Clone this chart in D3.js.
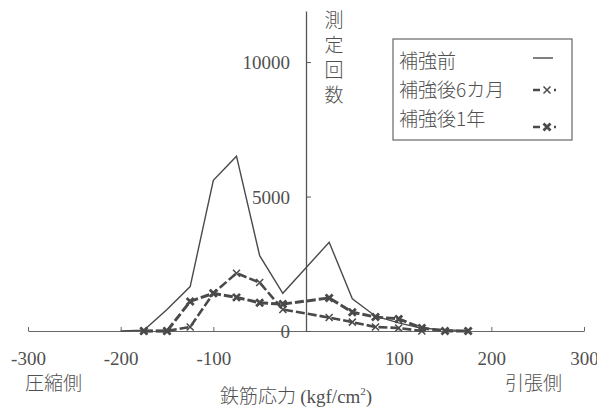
<!DOCTYPE html>
<html>
<head>
<meta charset="utf-8">
<script src="https://cdn.jsdelivr.net/npm/d3@7"></script>
<style>
  body { margin: 0; background: #fff; }
  svg { display: block; }
</style>
</head>
<body>
<svg id="graph"></svg>
<script>
// 鉄筋応力 (kgf/cm2) と測定回数
const xPre = [-200, -175, -150, -125, -100, -75, -50, -25, 25, 50, 75, 100, 125, 150, 175];
const yPre = [0, 30, 800, 1650, 5600, 6500, 2800, 1400, 3300, 1200, 550, 300, 100, 50, 0];

const x6m = [-175, -150, -125, -100, -75, -50, -25, 25, 50, 75, 100, 125];
const y6m = [0, 0, 150, 1400, 2150, 1800, 800, 500, 330, 150, 110, 0];

const x1y = [-175, -150, -125, -100, -75, -50, -25, 25, 50, 75, 100, 125, 150, 175];
const y1y = [0, 0, 1100, 1400, 1250, 1050, 1000, 1230, 700, 520, 450, 110, 0, 0];

const xTicks = [-300, -200, -100, 0, 100, 200, 300];
const yTicks = [0, 5000, 10000];
const seriesNames = ["補強前", "補強後6カ月", "補強後1年"];

const WIDTH = 597, HEIGHT = 409;
const ink = "#4a4a4a";
const txt = "#505050";
const SERIF = "'Times New Roman', 'Liberation Serif', 'Noto Serif', 'DejaVu Serif', Times, serif";
const JP = "'Noto Sans CJK JP', sans-serif";

const svg = d3.select("#graph").attr("width", WIDTH).attr("height", HEIGHT);

const x = d3.scaleLinear().domain([-300, 300]).range([28, 584]);
const y = d3.scaleLinear().domain([0, 10000]).range([331, 62]);

function num(sel, size) {
  return sel.attr("font-family", SERIF).style("font-family", SERIF)
      .style("font-size", (size || 19) + "px").style("fill", txt);
}
function jp(sel, size) {
  return sel.style("font-family", JP).style("font-size", (size || 18) + "px")
      .style("font-weight", 300).style("fill", txt);
}

// x axis, ticks pointing up
const xAxis = svg.append("g")
    .attr("transform", `translate(0,${y(0)})`)
    .call(d3.axisBottom(x).tickValues(xTicks)
          .tickSizeInner(-4).tickSizeOuter(0).tickPadding(21)
          .tickFormat(d => d === 0 ? "" : d));
xAxis.attr("font-family", SERIF);
xAxis.select(".domain").attr("stroke", "#666").attr("stroke-width", 1);
xAxis.selectAll(".tick line").attr("stroke", "#666");
num(xAxis.selectAll("text"));

// y axis at stress 0
const yAxis = svg.append("g")
    .attr("transform", `translate(${x(0)},0)`)
    .call(d3.axisLeft(y.copy().domain([0, 11900]).range([331, 11])).tickValues(yTicks)
          .tickSizeInner(-5).tickSizeOuter(0).tickPadding(16)
          .tickFormat(d3.format("d")));
yAxis.attr("font-family", SERIF);
yAxis.select(".domain").attr("stroke", "#555").attr("stroke-width", 1.3);
yAxis.selectAll(".tick line").attr("stroke", "#555");
num(yAxis.selectAll("text")).attr("dy", "0.35em");

// y title, vertical
jp(svg.append("g").selectAll("text")
    .data(["測", "定", "回", "数"])
    .join("text")
    .attr("text-anchor", "middle")
    .attr("x", 334)
    .attr("y", (d, i) => 27 + i * 25)
    .text(d => d), 19);

jp(svg.append("text").attr("x", 25).attr("y", 390).text("圧縮側"), 19);
jp(svg.append("text").attr("x", 505).attr("y", 390).text("引張側"), 19);

const title = jp(svg.append("text").attr("x", 220).attr("y", 403), 19);
title.append("tspan").text("鉄筋応力 ");
num(title.append("tspan").text("(kgf/cm"));
num(title.append("tspan").attr("dy", -8).text("2"), 11);
num(title.append("tspan").attr("dy", 8).text(")"));

const line = d3.line().x(d => x(d[0])).y(d => y(d[1]));

function thinX(g, cx, cy) {
  g.append("path")
    .attr("d", `M${cx - 3.5},${cy - 3.5}L${cx + 3.5},${cy + 3.5}M${cx + 3.5},${cy - 3.5}L${cx - 3.5},${cy + 3.5}`)
    .attr("stroke", ink).attr("stroke-width", 1.5).attr("fill", "none");
}
function boldX(g, cx, cy) {
  g.append("path")
    .attr("d", `M${cx - 3.5},${cy - 3.5}L${cx + 3.5},${cy + 3.5}M${cx + 3.5},${cy - 3.5}L${cx - 3.5},${cy + 3.5}`)
    .attr("stroke", ink).attr("stroke-width", 2.8).attr("fill", "none");
}

// 補強前
svg.append("path")
    .datum(d3.zip(xPre, yPre))
    .attr("d", line)
    .attr("fill", "none").attr("stroke", ink).attr("stroke-width", 1.4);

// 補強後6カ月
const d6 = d3.zip(x6m, y6m);
svg.append("path").datum(d6).attr("d", line)
    .attr("fill", "none").attr("stroke", ink).attr("stroke-width", 2.6)
    .attr("stroke-dasharray", "9,3");
const m6 = svg.append("g");
d6.forEach(d => thinX(m6, x(d[0]), y(d[1])));

// 補強後1年
const d1 = d3.zip(x1y, y1y);
svg.append("path").datum(d1).attr("d", line)
    .attr("fill", "none").attr("stroke", ink).attr("stroke-width", 3)
    .attr("stroke-dasharray", "9,3");
const m1 = svg.append("g");
d1.forEach(d => boldX(m1, x(d[0]), y(d[1])));

// legend
const lg = svg.append("g");
lg.append("rect").attr("x", 393).attr("y", 39).attr("width", 179).attr("height", 101)
    .attr("fill", "#fff").attr("stroke", "#666").attr("stroke-width", 1.2);
jp(lg.selectAll("text.lab")
    .data(seriesNames)
    .join("text")
    .attr("class", "lab")
    .attr("x", 399)
    .attr("y", (d, i) => 68 + i * 29)
    .text(d => d), 19);
lg.append("line").attr("x1", 533).attr("x2", 553).attr("y1", 58).attr("y2", 58)
    .attr("stroke", ink).attr("stroke-width", 1.4);
[[90, thinX], [127, boldX]].forEach(([ly, mk]) => {
  lg.append("line").attr("x1", 533).attr("x2", 540).attr("y1", ly).attr("y2", ly)
      .attr("stroke", ink).attr("stroke-width", 2.5);
  lg.append("line").attr("x1", 554).attr("x2", 556).attr("y1", ly).attr("y2", ly)
      .attr("stroke", ink).attr("stroke-width", 2.5);
  mk(lg, 547, ly);
});
</script>
</body>
</html>
